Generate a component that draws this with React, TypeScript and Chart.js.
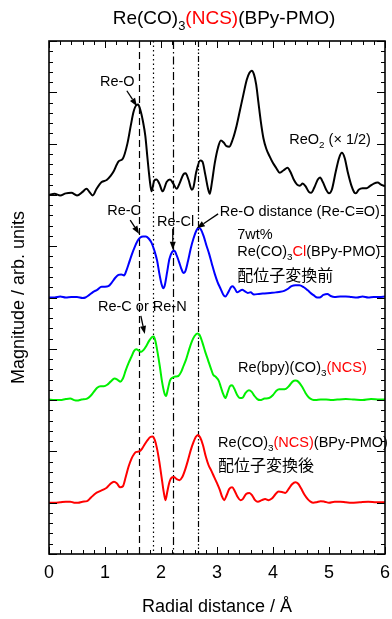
import React, { useEffect, useRef } from 'react';
import { Chart, registerables } from 'chart.js';

Chart.register(...registerables);

// ---------- data ----------
const reo2R = [0.0, 0.1, 0.2, 0.3, 0.4, 0.5, 0.6, 0.67, 0.72, 0.78, 0.85, 0.94, 1.03, 1.1, 1.15, 1.24, 1.32, 1.4, 1.46, 1.51, 1.56, 1.59, 1.63, 1.68, 1.72, 1.76, 1.8, 1.83, 1.88, 1.92, 1.97, 2.03, 2.1, 2.16, 2.22, 2.28, 2.33, 2.4, 2.44, 2.49, 2.55, 2.58, 2.63, 2.7, 2.74, 2.79, 2.84, 2.87, 2.91, 2.96, 3.02, 3.07, 3.12, 3.17, 3.22, 3.28, 3.35, 3.41, 3.47, 3.53, 3.58, 3.62, 3.66, 3.7, 3.74, 3.78, 3.83, 3.88, 3.94, 4.0, 4.06, 4.12, 4.19, 4.26, 4.31, 4.37, 4.43, 4.48, 4.53, 4.58, 4.64, 4.68, 4.74, 4.8, 4.84, 4.89, 4.95, 5.0, 5.05, 5.12, 5.18, 5.23, 5.28, 5.34, 5.4, 5.45, 5.48, 5.53, 5.6, 5.67, 5.73, 5.8, 5.87, 5.93, 6.0];
const reo2Mag = [7.0, 7.02, 6.99, 7.03, 7.04, 6.99, 7.06, 7.12, 7.06, 6.99, 7.12, 7.25, 7.29, 7.37, 7.45, 7.65, 7.71, 8.0, 8.35, 8.62, 8.75, 8.76, 8.66, 8.42, 8.15, 7.7, 7.28, 7.07, 7.28, 7.3, 7.22, 7.07, 7.25, 7.3, 7.22, 7.12, 7.22, 7.4, 7.42, 7.3, 7.1, 7.15, 7.45, 7.67, 7.65, 7.4, 7.12, 7.02, 7.25, 7.62, 7.93, 8.06, 8.02, 7.95, 7.94, 8.08, 8.35, 8.65, 8.95, 9.24, 9.38, 9.42, 9.35, 9.15, 8.8, 8.45, 8.1, 7.9, 7.75, 7.62, 7.52, 7.43, 7.48, 7.53, 7.45, 7.3, 7.2, 7.18, 7.22, 7.17, 7.06, 7.04, 7.15, 7.3, 7.34, 7.25, 7.1, 7.03, 7.1, 7.45, 7.72, 7.82, 7.72, 7.42, 7.18, 7.05, 7.03, 7.1, 7.13, 7.13, 7.17, 7.22, 7.24, 7.2, 7.17];

const beforeR = [0.0, 0.1, 0.2, 0.3, 0.4, 0.5, 0.6, 0.65, 0.72, 0.79, 0.86, 0.94, 1.0, 1.06, 1.12, 1.18, 1.24, 1.29, 1.34, 1.38, 1.43, 1.48, 1.53, 1.58, 1.63, 1.68, 1.73, 1.78, 1.83, 1.88, 1.93, 1.97, 2.01, 2.04, 2.07, 2.11, 2.15, 2.2, 2.24, 2.28, 2.32, 2.36, 2.4, 2.43, 2.48, 2.53, 2.58, 2.63, 2.67, 2.71, 2.76, 2.81, 2.86, 2.91, 2.96, 3.01, 3.06, 3.11, 3.15, 3.2, 3.25, 3.28, 3.32, 3.36, 3.41, 3.45, 3.5, 3.55, 3.6, 3.66, 3.75, 3.85, 3.95, 4.05, 4.13, 4.2, 4.27, 4.33, 4.4, 4.47, 4.55, 4.62, 4.68, 4.73, 4.79, 4.83, 4.9, 4.97, 5.03, 5.1, 5.2, 5.3, 5.4, 5.5, 5.6, 5.7, 5.8, 5.9, 6.0];
const beforeMag = [5.0, 5.0, 5.02, 5.0, 5.01, 5.01, 4.99, 5.0, 5.05, 5.11, 5.15, 5.21, 5.21, 5.22, 5.29, 5.38, 5.44, 5.45, 5.43, 5.52, 5.68, 5.84, 5.98, 6.1, 6.17, 6.19, 6.19, 6.15, 6.07, 5.92, 5.72, 5.47, 5.26, 5.18, 5.25, 5.5, 5.75, 5.89, 5.91, 5.82, 5.7, 5.57, 5.48, 5.5, 5.7, 5.95, 6.15, 6.3, 6.36, 6.33, 6.2, 6.02, 5.85, 5.65, 5.46, 5.3, 5.18, 5.06, 5.02, 5.1, 5.2, 5.22, 5.17, 5.1, 5.13, 5.15, 5.12, 5.09, 5.1, 5.06, 5.07, 5.08, 5.09, 5.1, 5.11, 5.13, 5.17, 5.22, 5.24, 5.24, 5.2, 5.14, 5.08, 5.04, 5.0, 5.0, 5.05, 5.07, 5.03, 5.01, 5.02, 5.02, 5.01, 5.0, 5.02, 5.0, 5.01, 5.01, 5.02];

const complexR = [0.0, 0.1, 0.2, 0.3, 0.38, 0.45, 0.5, 0.58, 0.68, 0.74, 0.8, 0.86, 0.92, 0.98, 1.04, 1.1, 1.17, 1.22, 1.27, 1.32, 1.37, 1.42, 1.47, 1.52, 1.56, 1.6, 1.64, 1.69, 1.74, 1.79, 1.84, 1.87, 1.9, 1.94, 1.98, 2.02, 2.06, 2.09, 2.12, 2.16, 2.21, 2.26, 2.31, 2.36, 2.4, 2.45, 2.5, 2.55, 2.6, 2.65, 2.69, 2.74, 2.79, 2.84, 2.89, 2.93, 2.98, 3.03, 3.07, 3.11, 3.15, 3.19, 3.23, 3.27, 3.31, 3.36, 3.41, 3.46, 3.51, 3.57, 3.62, 3.67, 3.72, 3.77, 3.85, 3.93, 4.0, 4.06, 4.11, 4.17, 4.23, 4.29, 4.35, 4.4, 4.45, 4.52, 4.58, 4.64, 4.7, 4.76, 4.85, 4.95, 5.05, 5.15, 5.3, 5.45, 5.6, 5.75, 5.9, 6.0];
const complexMag = [3.01, 3.0, 3.0, 3.02, 3.03, 3.0, 2.99, 3.01, 3.03, 3.08, 3.16, 3.24, 3.27, 3.27, 3.3, 3.36, 3.42, 3.4, 3.36, 3.42, 3.58, 3.72, 3.84, 3.96, 3.99, 3.97, 3.94, 3.98, 4.06, 4.16, 4.23, 4.24, 4.15, 3.92, 3.65, 3.35, 3.14, 3.08, 3.2, 3.38, 3.44, 3.46, 3.47, 3.55, 3.66, 3.8, 3.98, 4.14, 4.25, 4.3, 4.27, 4.12, 3.94, 3.78, 3.62, 3.5, 3.45, 3.38, 3.25, 3.12, 3.04, 3.15, 3.27, 3.29, 3.22, 3.1, 3.04, 3.05, 3.14, 3.19, 3.16, 3.08, 3.02, 3.0, 3.03, 3.04, 3.1, 3.18, 3.21, 3.21, 3.22, 3.28, 3.36, 3.38, 3.36, 3.26, 3.14, 3.05, 3.01, 3.0, 3.01, 3.01, 3.0, 3.01, 3.02, 3.01, 3.0, 3.02, 3.01, 3.01];

const afterR = [0.0, 0.1, 0.2, 0.3, 0.38, 0.45, 0.52, 0.6, 0.68, 0.75, 0.83, 0.9, 0.96, 1.03, 1.09, 1.16, 1.21, 1.27, 1.32, 1.37, 1.42, 1.47, 1.52, 1.56, 1.61, 1.66, 1.71, 1.76, 1.81, 1.85, 1.89, 1.93, 1.97, 2.01, 2.05, 2.08, 2.11, 2.15, 2.19, 2.23, 2.28, 2.33, 2.38, 2.43, 2.48, 2.53, 2.58, 2.62, 2.66, 2.7, 2.75, 2.8, 2.85, 2.9, 2.95, 3.0, 3.05, 3.09, 3.13, 3.17, 3.22, 3.27, 3.32, 3.37, 3.42, 3.46, 3.52, 3.58, 3.63, 3.68, 3.73, 3.8, 3.86, 3.92, 3.98, 4.04, 4.1, 4.16, 4.22, 4.28, 4.34, 4.4, 4.45, 4.5, 4.56, 4.62, 4.67, 4.72, 4.78, 4.85, 4.92, 5.0, 5.1, 5.2, 5.3, 5.4, 5.55, 5.7, 5.85, 6.0];
const afterMag = [1.0, 1.0, 1.01, 1.02, 1.02, 1.0, 1.0, 1.02, 1.03, 1.1, 1.18, 1.22, 1.25, 1.29, 1.36, 1.41, 1.38, 1.3, 1.32, 1.5, 1.7, 1.85, 1.95, 1.99, 2.0, 2.05, 2.14, 2.22, 2.28, 2.29, 2.22, 2.05, 1.8, 1.5, 1.2, 1.05, 1.2, 1.4, 1.49, 1.5, 1.46, 1.44, 1.5, 1.64, 1.82, 2.02, 2.18, 2.28, 2.32, 2.27, 2.12, 1.9, 1.73, 1.62, 1.5, 1.38, 1.25, 1.12, 1.05, 1.14, 1.27, 1.3, 1.22, 1.11, 1.05, 1.07, 1.17, 1.19, 1.14, 1.05, 1.02, 1.05, 1.07, 1.05, 1.08, 1.16, 1.22, 1.21, 1.19, 1.27, 1.36, 1.4, 1.37, 1.28, 1.16, 1.07, 1.02, 1.0, 1.01, 1.03, 1.02, 1.0, 1.02, 1.02, 1.01, 1.0, 1.01, 1.02, 1.01, 1.01];

const xTickLabels = ['0', '1', '2', '3', '4', '5', '6'];
const refLineR = [1.61, 1.86, 2.22, 2.66];

// ---------- styles / layout ----------
const FONT = "'Liberation Sans', Arial, sans-serif";
const JFONT = "'Noto Sans CJK JP', 'Noto Sans CJK SC', sans-serif";
const refDashes = [[7, 4], [1.5, 3], [8, 3, 1.5, 3], [6, 2, 1.5, 2, 1.5, 2]];

type Seg = { t: string; c?: string; sub?: boolean };
type Note = { segs: Seg[]; x: number; y: number; size: number; jp?: boolean };
type Arrow = { x1: number; y1: number; x2: number; y2: number };

const RED = '#ff0000';
const notes: Note[] = [
  { segs: [{ t: 'Re-O' }], x: 0.91, y: 9.2, size: 14.5 },
  { segs: [{ t: 'ReO' }, { t: '2', sub: true }, { t: ' (× 1/2)' }], x: 4.29, y: 8.07, size: 14.5 },
  { segs: [{ t: 'Re-C' }], x: 1.04, y: 6.69, size: 14.5 },
  { segs: [{ t: 'Re-Cl' }], x: 1.93, y: 6.47, size: 14.5 },
  { segs: [{ t: 'Re-O distance (Re-C≡O)' }], x: 3.05, y: 6.67, size: 14.5 },
  { segs: [{ t: '7wt%' }], x: 3.36, y: 6.22, size: 14.5 },
  { segs: [{ t: 'Re(CO)' }, { t: '3', sub: true }, { t: 'Cl', c: RED }, { t: '(BPy-PMO)' }], x: 3.36, y: 5.89, size: 14.5 },
  { segs: [{ t: '配位子変換前' }], x: 3.36, y: 5.44, size: 16, jp: true },
  { segs: [{ t: 'Re-C or Re-N' }], x: 0.875, y: 4.81, size: 14.5 },
  { segs: [{ t: 'Re(bpy)(CO)' }, { t: '3', sub: true }, { t: '(NCS)', c: RED }], x: 3.375, y: 3.63, size: 14.5 },
  { segs: [{ t: 'Re(CO)' }, { t: '3', sub: true }, { t: '(NCS)', c: RED }, { t: '(BPy-PMO)' }], x: 3.02, y: 2.16, size: 14.5 },
  { segs: [{ t: '配位子変換後' }], x: 3.02, y: 1.73, size: 16, jp: true },
];
const arrows: Arrow[] = [
  { x1: 1.39, y1: 9.03, x2: 1.57, y2: 8.73 },
  { x1: 1.45, y1: 6.51, x2: 1.61, y2: 6.24 },
  { x1: 2.21, y1: 6.34, x2: 2.21, y2: 5.93 },
  { x1: 3.02, y1: 6.63, x2: 2.64, y2: 6.35 },
  { x1: 1.64, y1: 4.64, x2: 1.71, y2: 4.29 },
];
const titleSegs: Seg[] = [{ t: 'Re(CO)' }, { t: '3', sub: true }, { t: '(NCS)', c: RED }, { t: '(BPy-PMO)' }];

function richWidth(ctx: CanvasRenderingContext2D, segs: Seg[], size: number, fam: string) {
  let w = 0;
  for (const s of segs) {
    ctx.font = `${s.sub ? size * 0.68 : size}px ${fam}`;
    w += ctx.measureText(s.t).width;
  }
  return w;
}

function drawRich(ctx: CanvasRenderingContext2D, segs: Seg[], x: number, y: number, size: number, fam: string) {
  let cx = x;
  ctx.textAlign = 'left';
  ctx.textBaseline = 'middle';
  for (const s of segs) {
    const fs = s.sub ? size * 0.68 : size;
    ctx.font = `${fs}px ${fam}`;
    ctx.fillStyle = s.c || '#000';
    ctx.fillText(s.t, cx, s.sub ? y + size * 0.38 : y);
    cx += ctx.measureText(s.t).width;
  }
}

function drawArrow(ctx: CanvasRenderingContext2D, x1: number, y1: number, x2: number, y2: number) {
  const ang = Math.atan2(y2 - y1, x2 - x1);
  const hl = 8, hw = 3;
  const bx = x2 - hl * Math.cos(ang), by = y2 - hl * Math.sin(ang);
  ctx.strokeStyle = '#000';
  ctx.fillStyle = '#000';
  ctx.lineWidth = 1.3;
  ctx.setLineDash([]);
  ctx.beginPath();
  ctx.moveTo(x1, y1);
  ctx.lineTo(bx, by);
  ctx.stroke();
  ctx.beginPath();
  ctx.moveTo(x2, y2);
  ctx.lineTo(bx + hw * Math.sin(ang), by - hw * Math.cos(ang));
  ctx.lineTo(bx - hw * Math.sin(ang), by + hw * Math.cos(ang));
  ctx.closePath();
  ctx.fill();
}

const decoPlugin = {
  id: 'deco',
  beforeDatasetsDraw(chart: any) {
    const { ctx, chartArea: a, scales } = chart;
    ctx.save();
    ctx.strokeStyle = '#000';
    ctx.lineWidth = 1.2;
    refLineR.forEach((r, i) => {
      const px = Math.round(scales.x.getPixelForValue(r)) + 0.5;
      ctx.setLineDash(refDashes[i % refDashes.length]);
      ctx.beginPath();
      ctx.moveTo(px, a.top);
      ctx.lineTo(px, a.bottom);
      ctx.stroke();
    });
    ctx.restore();
  },
  afterDraw(chart: any) {
    const { ctx, chartArea: a, scales } = chart;
    const xs = scales.x, ys = scales.y;
    ctx.save();
    ctx.setLineDash([]);
    ctx.strokeStyle = '#000';
    // ticks
    ctx.lineWidth = 1;
    ctx.beginPath();
    for (let i = 0; i <= 30; i++) {
      const px = Math.round(xs.getPixelForValue(i * 0.2)) + 0.5;
      const len = i % 5 === 0 ? 7 : 4;
      ctx.moveTo(px, a.bottom);
      ctx.lineTo(px, a.bottom - len);
      ctx.moveTo(px, a.top);
      ctx.lineTo(px, a.top + len);
    }
    for (let i = 0; i <= 50; i++) {
      const py = Math.round(ys.getPixelForValue(i * 0.2)) + 0.5;
      const len = i % 5 === 0 ? 8 : 4;
      ctx.moveTo(a.left, py);
      ctx.lineTo(a.left + len, py);
      ctx.moveTo(a.right, py);
      ctx.lineTo(a.right - len, py);
    }
    ctx.stroke();
    // frame
    ctx.lineWidth = 1.6;
    ctx.strokeRect(a.left, a.top, a.right - a.left, a.bottom - a.top);
    // arrows
    arrows.forEach((ar) =>
      drawArrow(ctx, xs.getPixelForValue(ar.x1), ys.getPixelForValue(ar.y1), xs.getPixelForValue(ar.x2), ys.getPixelForValue(ar.y2))
    );
    // notes
    notes.forEach((n) => {
      drawRich(ctx, n.segs, xs.getPixelForValue(n.x), ys.getPixelForValue(n.y), n.size, n.jp ? JFONT : FONT);
    });
    // title
    const tSize = 19;
    const tw = richWidth(ctx, titleSegs, tSize, FONT);
    drawRich(ctx, titleSegs, 224 - tw / 2, 19, tSize, FONT);
    ctx.restore();
  },
};

export default function App() {
  const ref = useRef<HTMLCanvasElement | null>(null);
  useEffect(() => {
    if (!ref.current) return;
    const mk = (r: number[], m: number[]) => r.map((x, i) => ({ x, y: m[i] }));
    const ds = (data: any, color: string) => ({
      data,
      borderColor: color,
      borderWidth: 2,
      pointRadius: 0,
      fill: false,
      cubicInterpolationMode: 'monotone' as const,
    });
    const chart = new Chart(ref.current, {
      type: 'line',
      data: {
        datasets: [
          ds(mk(reo2R, reo2Mag), '#000000'),
          ds(mk(beforeR, beforeMag), '#0000ff'),
          ds(mk(complexR, complexMag), '#00f000'),
          ds(mk(afterR, afterMag), '#ff0000'),
        ],
      },
      options: {
        animation: false,
        responsive: false,
        devicePixelRatio: 1,
        layout: { padding: { top: 41, right: 7, left: 0, bottom: 0 } },
        plugins: { legend: { display: false }, tooltip: { enabled: false }, title: { display: false } },
        scales: {
          x: {
            type: 'linear',
            min: 0,
            max: 6,
            grid: { display: false, drawTicks: false },
            border: { display: false },
            ticks: {
              stepSize: 1,
              autoSkip: false,
              maxRotation: 0,
              padding: 8,
              color: '#000',
              font: { family: FONT, size: 18 },
              callback: (v: any) => xTickLabels[Math.round(Number(v))] ?? '',
            },
            title: {
              display: true,
              text: 'Radial distance / Å',
              color: '#000',
              font: { family: FONT, size: 18 },
              padding: { top: 0, bottom: 1 },
            },
            afterFit: (s: any) => {
              s.height = 65;
              s.paddingLeft = 0;
              s.paddingRight = 0;
            },
          },
          y: {
            type: 'linear',
            min: 0,
            max: 10,
            grid: { display: false, drawTicks: false },
            border: { display: false },
            ticks: { display: false },
            title: {
              display: true,
              text: 'Magnitude / arb. units',
              color: '#000',
              font: { family: FONT, size: 18 },
              padding: { top: 8, bottom: 0 },
            },
            afterFit: (s: any) => {
              s.width = 49;
              s.paddingTop = 0;
              s.paddingBottom = 0;
            },
          },
        },
      },
      plugins: [decoPlugin],
    });
    return () => chart.destroy();
  }, []);
  return (
    <div style={{ position: 'fixed', left: 0, top: 0, width: 392, height: 619, background: '#fff' }}>
      <canvas ref={ref} width={392} height={619} style={{ display: 'block', width: 392, height: 619 }} />
    </div>
  );
}
